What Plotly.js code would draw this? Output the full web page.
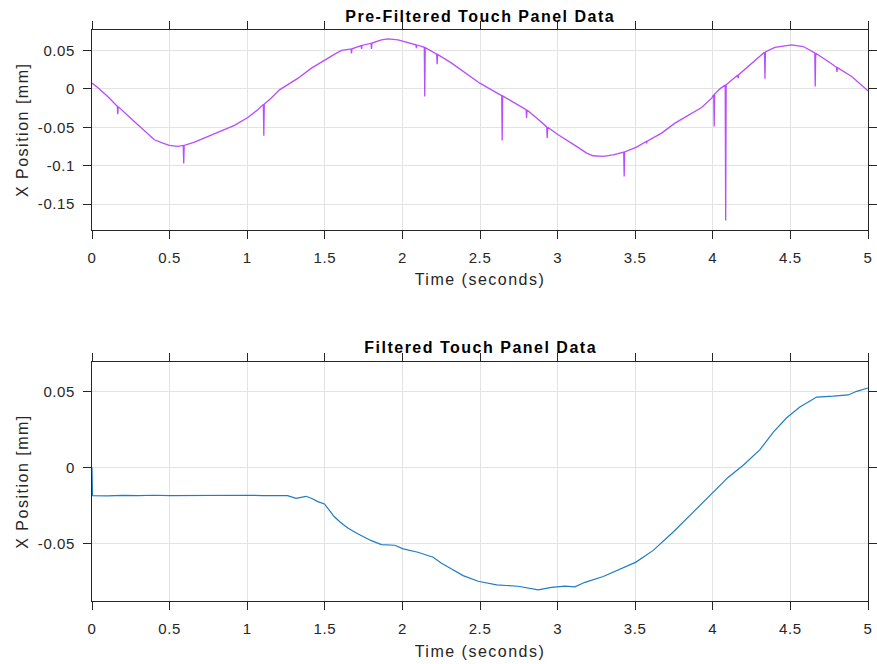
<!DOCTYPE html>
<html>
<head>
<meta charset="utf-8">
<script src="https://cdn.plot.ly/plotly-3.0.1.min.js"></script>
<style>
  html, body { margin: 0; padding: 0; background: #fff; }
  #chart { width: 877px; height: 664px; }
  #chart .xtitle, #chart .x2title, #chart .ytitle, #chart .y2title, #chart .annotation-text { letter-spacing: 1.5px; }
  #chart .xtick text, #chart .x2tick text, #chart .ytick text, #chart .y2tick text { letter-spacing: 0.6px; }
</style>
</head>
<body>
<div id="chart"></div>
<script>
// ---- Pre-filtered touch panel data (time in s, X position in mm) ----
// spikes are single samples dropping off the curve
const rawTime = [
  0.000, 0.037, 0.101, 0.163, 0.166, 0.169, 0.230, 0.295, 0.348, 0.402, 0.456, 0.499, 0.552,
  0.588, 0.591, 0.594, 0.660, 0.724, 0.832, 0.918, 1.004, 1.068,
  1.104, 1.107, 1.110, 1.154, 1.208, 1.242, 1.328, 1.414, 1.500, 1.564, 1.608,
  1.669, 1.672, 1.675, 1.734, 1.737, 1.740, 1.798, 1.801, 1.804, 1.865, 1.908, 1.972, 2.037,
  2.087, 2.090, 2.093, 2.141, 2.144, 2.147, 2.188, 2.221, 2.224, 2.227, 2.317, 2.424, 2.499, 2.563,
  2.640, 2.643, 2.646, 2.714, 2.797, 2.800, 2.803, 2.865, 2.930, 2.933, 2.936, 3.004, 3.058,
  3.122, 3.187, 3.229, 3.294, 3.358, 3.426, 3.429, 3.432, 3.509,
  3.571, 3.574, 3.577, 3.670, 3.756, 3.842, 3.928, 3.993, 4.006, 4.009, 4.012, 4.046,
  4.080, 4.083, 4.086, 4.161, 4.164, 4.167, 4.250, 4.333, 4.336, 4.339, 4.400, 4.465,
  4.508, 4.583, 4.657, 4.660, 4.663, 4.744, 4.797, 4.800, 4.803, 4.895, 5.000
];
const rawX = [
  0.0075, 0.0018, -0.0099, -0.0227, -0.0330, -0.0231, -0.0346, -0.0467, -0.0554, -0.0662, -0.0705, -0.0735, -0.0748,
  -0.0736, -0.0970, -0.0735, -0.0692, -0.0640, -0.0545, -0.0475, -0.0372, -0.0272,
  -0.0202, -0.0610, -0.0197, -0.0121, -0.0013, 0.0031, 0.0139, 0.0269, 0.0377, 0.0451, 0.0499,
  0.0519, 0.0460, 0.0521, 0.0562, 0.0520, 0.0564, 0.0593, 0.0520, 0.0595, 0.0636, 0.0649, 0.0636, 0.0606,
  0.0573, 0.0530, 0.0570, 0.0540, -0.0100, 0.0536, 0.0494, 0.0452, 0.0320, 0.0448, 0.0334, 0.0182, 0.0074, 0.0000,
  -0.0089, -0.0670, -0.0093, -0.0173, -0.0270, -0.0380, -0.0274, -0.0380, -0.0495, -0.0640, -0.0499, -0.0597, -0.0662,
  -0.0748, -0.0835, -0.0870, -0.0878, -0.0857, -0.0823, -0.1140, -0.0821, -0.0757,
  -0.0684, -0.0710, -0.0681, -0.0575, -0.0446, -0.0346, -0.0242, -0.0121, -0.0075, -0.0490, -0.0068, 0.0000,
  0.0050, -0.1710, 0.0054, 0.0180, 0.0140, 0.0184, 0.0334, 0.0475, 0.0130, 0.0479, 0.0538, 0.0563,
  0.0571, 0.0550, 0.0466, 0.0030, 0.0462, 0.0356, 0.0280, 0.0220, 0.0276, 0.0161, -0.0026
];

// ---- Filtered touch panel data ----
const filtTime = [
  0.000, 0.003, 0.100, 0.200, 0.300, 0.400, 0.500, 0.600, 0.700, 0.800, 0.900, 1.000, 1.100, 1.200, 1.260,
  1.315, 1.345, 1.380, 1.420, 1.455, 1.498, 1.530, 1.560, 1.600, 1.648, 1.715, 1.800, 1.865, 1.951,
  2.005, 2.100, 2.198, 2.252, 2.317, 2.391, 2.488, 2.607, 2.746, 2.875, 2.961, 3.047, 3.111, 3.176,
  3.294, 3.401, 3.505, 3.616, 3.745, 3.874, 4.003, 4.100, 4.196, 4.304, 4.390, 4.476, 4.561, 4.669,
  4.776, 4.873, 4.927, 5.000
];
const filtX = [
  0.0000, -0.0184, -0.0186, -0.0183, -0.0185, -0.0182, -0.0184, -0.0183, -0.0185, -0.0183, -0.0184, -0.0182, -0.0184, -0.0183, -0.0185,
  -0.0202, -0.0197, -0.0189, -0.0205, -0.0224, -0.0239, -0.0280, -0.0322, -0.0360, -0.0397, -0.0437, -0.0481, -0.0507, -0.0511,
  -0.0535, -0.0557, -0.0590, -0.0630, -0.0667, -0.0711, -0.0748, -0.0772, -0.0781, -0.0805, -0.0788, -0.0780, -0.0785, -0.0755,
  -0.0717, -0.0667, -0.0622, -0.0545, -0.0424, -0.0293, -0.0162, -0.0063, 0.0015, 0.0118, 0.0234, 0.0328, 0.0398, 0.0464,
  0.0470, 0.0478, 0.0502, 0.0524
];

// ---- axis ticks ----
const xTickVals = [0, 0.5, 1, 1.5, 2, 2.5, 3, 3.5, 4, 4.5, 5];
const xTickText = ['0', '0.5', '1', '1.5', '2', '2.5', '3', '3.5', '4', '4.5', '5'];
const topYTickVals = [-0.15, -0.1, -0.05, 0, 0.05];
const topYTickText = ['-0.15', '-0.1', '-0.05', '0', '0.05'];
const botYTickVals = [-0.05, 0, 0.05];
const botYTickText = ['-0.05', '0', '0.05'];

const titles = ['Pre-Filtered Touch Panel Data', 'Filtered Touch Panel Data'];
const xLabel = 'Time (seconds)';
const yLabel = 'X Position [mm]';

const FONT = 'Liberation Sans, Arial, Helvetica, sans-serif';
const TXT = '#262626';
const AX = '#262626';
const GRID = '#e3e3e3';

function xAxis(anchor) {
  return {
    anchor: anchor, range: [0, 5], tickmode: 'array', tickvals: xTickVals, ticktext: xTickText,
    ticks: 'outside', ticklen: 8, tickwidth: 1, tickcolor: AX, ticklabelstandoff: 6,
    showline: true, linecolor: AX, linewidth: 1, mirror: 'ticks',
    showgrid: true, gridcolor: GRID, gridwidth: 1, zeroline: false,
    tickfont: { family: FONT, size: 15, color: TXT },
    title: { text: xLabel, font: { family: FONT, size: 16, color: TXT }, standoff: 9 }
  };
}
function yAxis(anchor, domain, range, tv, tt) {
  return {
    anchor: anchor, domain: domain, range: range, tickmode: 'array', tickvals: tv, ticktext: tt,
    ticks: 'outside', ticklen: 8, tickwidth: 1, tickcolor: AX, ticklabelstandoff: 5,
    showline: true, linecolor: AX, linewidth: 1, mirror: 'ticks',
    showgrid: true, gridcolor: GRID, gridwidth: 1, zeroline: false,
    tickfont: { family: FONT, size: 15, color: TXT },
    title: { text: yLabel, font: { family: FONT, size: 16, color: TXT }, standoff: 8 }
  };
}

const traces = [
  { x: rawTime, y: rawX, xaxis: 'x', yaxis: 'y', mode: 'lines', type: 'scatter',
    line: { color: '#b84cff', width: 1.3 }, hoverinfo: 'skip' },
  { x: filtTime, y: filtX, xaxis: 'x2', yaxis: 'y2', mode: 'lines', type: 'scatter',
    line: { color: '#1f7cc7', width: 1.2 }, hoverinfo: 'skip' }
];

const layout = {
  width: 877, height: 664,
  margin: { l: 92, r: 9, t: 30, b: 63 },
  paper_bgcolor: '#ffffff', plot_bgcolor: '#ffffff',
  showlegend: false,
  xaxis: xAxis('y'),
  yaxis: yAxis('x', [0.6504, 1], [-0.183, 0.0765], topYTickVals, topYTickText),
  xaxis2: xAxis('y2'),
  yaxis2: yAxis('x2', [0, 0.4186], [-0.0878, 0.0695], botYTickVals, botYTickText),
  annotations: [
    { text: '<b>' + titles[0] + '</b>', xref: 'paper', yref: 'paper', x: 0.5, y: 1,
      xanchor: 'center', yanchor: 'bottom', yshift: 3, showarrow: false,
      font: { family: FONT, size: 16, color: '#000' } },
    { text: '<b>' + titles[1] + '</b>', xref: 'paper', yref: 'paper', x: 0.5, y: 0.4186,
      xanchor: 'center', yanchor: 'bottom', yshift: 4, showarrow: false,
      font: { family: FONT, size: 16, color: '#000' } }
  ]
};

Plotly.newPlot('chart', traces, layout, { staticPlot: true, displayModeBar: false });
</script>
</body>
</html>
